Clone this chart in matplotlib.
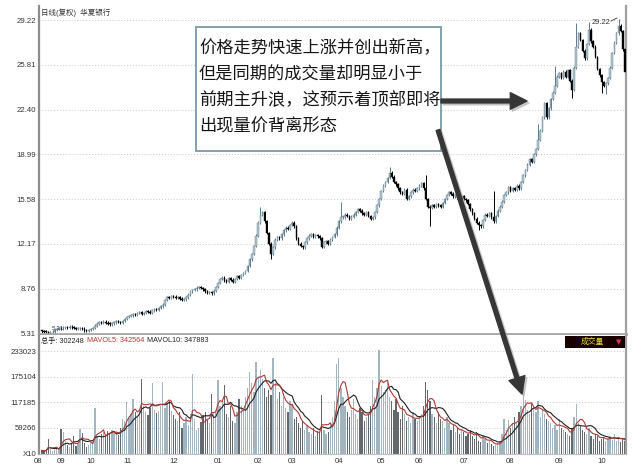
import numpy as np
import pandas as pd
import matplotlib
matplotlib.use("Agg")
import matplotlib.pyplot as plt
from matplotlib.patches import FancyArrowPatch, Rectangle

plt.rcParams['font.family'] = ['Liberation Sans', 'Noto Sans CJK SC', 'DejaVu Sans']

# --- Datos (华夏银行, diario, 2006-08 .. 2007-10) ---
months = ["08", "09", "10", "11", "12", "01", "02", "03", "04", "05", "06", "07", "08", "09", "10"]
month_days = [11, 14, 17, 22, 21, 19, 16, 22, 20, 18, 21, 22, 23, 20, 10]

closes = [
    # 08
    5.52, 5.48, 5.45, 5.40, 5.44, 5.50, 5.62, 5.70, 5.78, 5.74, 5.80,
    # 09
    5.84, 5.80, 5.88, 5.82, 5.76, 5.70, 5.74, 5.78, 5.72, 5.60, 5.55, 5.62, 5.70, 5.78,
    # 10
    5.95, 6.10, 6.20, 6.15, 6.25, 6.18, 6.10, 6.05, 6.12, 6.20, 6.28, 6.22, 6.15, 6.30, 6.45, 6.60, 6.68,
    # 11
    6.72, 6.80, 6.75, 6.90, 6.95, 6.85, 6.92, 7.05, 7.00, 6.90, 7.10, 7.20, 7.15, 7.30, 7.42, 7.55,
    7.90, 8.10, 8.05, 8.20, 8.15, 8.05,
    # 12
    8.10, 8.00, 7.90, 7.95, 8.10, 8.30, 8.55, 8.65, 8.70, 8.85, 8.90, 8.80, 8.70, 8.55, 8.45, 8.50,
    8.40, 8.60, 8.90, 9.20, 9.50,
    # 01
    9.60, 9.40, 9.30, 9.55, 9.45, 9.30, 9.50, 9.70, 9.60, 9.80, 9.95, 10.10, 10.50, 11.00, 11.40,
    12.00, 12.80, 13.80, 14.40,
    # 02
    14.60, 13.90, 13.00, 12.20, 11.40, 11.90, 12.50, 12.70, 12.60, 12.90, 13.20, 13.40, 13.30, 13.60,
    13.80, 13.50,
    # 03
    12.60, 12.20, 12.00, 11.90, 12.30, 12.60, 12.80, 12.90, 12.70, 12.85, 12.75, 12.60, 11.95, 12.30,
    12.40, 12.20, 12.50, 12.70, 12.90, 13.40, 13.90, 14.20,
    # 04
    14.20, 14.40, 14.30, 14.10, 14.25, 14.40, 14.60, 14.80, 14.70, 14.50, 14.40, 14.60, 14.30, 14.10,
    14.20, 14.60, 15.10, 15.60, 16.20, 16.60,
    # 05
    16.90, 17.20, 17.60, 17.30, 16.90, 16.70, 16.40, 16.10, 16.00, 16.30, 15.60, 15.80, 16.10, 16.30,
    16.20, 16.40, 16.60, 16.80,
    # 06
    16.40, 15.60, 15.00, 14.90, 15.10, 15.00, 15.20, 15.10, 15.00, 15.30, 15.60, 15.90, 16.10, 16.00,
    15.80, 15.90, 15.70, 15.60, 15.80, 15.60, 15.50,
    # 07
    15.20, 14.80, 14.50, 14.10, 13.80, 13.60, 13.50, 14.00, 14.40, 14.30, 14.50, 14.20, 13.90, 14.30,
    14.70, 15.00, 15.40, 15.90, 16.10, 16.50, 16.20, 16.40,
    # 08
    16.30, 16.60, 16.40, 16.90, 17.40, 17.80, 18.20, 18.60, 18.40, 19.00, 19.40, 20.10, 20.80, 21.80,
    22.90, 21.80, 22.50, 23.20, 23.70, 24.20, 24.90, 25.20, 24.80,
    # 09
    25.30, 24.90, 25.40, 24.60, 23.90, 25.60, 27.20, 28.20, 27.70, 26.90, 26.30, 27.40, 28.50, 27.60,
    27.20, 26.40, 25.50, 25.00, 24.50, 24.20,
    # 10
    24.40, 24.80, 25.60, 26.70, 27.50, 28.20, 28.80, 28.40, 27.00, 25.30,
]
first_open = 5.55

# mechas destacadas (índice de vela: precio)
wick_high = {103: 14.90, 141: 15.30, 164: 17.90, 181: 17.30, 213: 16.10, 234: 21.20,
             242: 25.60, 252: 28.90, 258: 29.00, 272: 29.22}
wick_low = {3: 5.31, 108: 11.10, 183: 13.60, 206: 13.30, 250: 23.40, 264: 23.80, 266: 23.70}

# volumen (miles)
volumes = [
    8, 6, 10, 34, 12, 7, 9, 14, 11, 57, 50,
    30, 20, 15, 25, 40, 18, 22, 57, 48, 25, 15, 20, 30, 28,
    104, 40, 35, 45, 50, 38, 52, 48, 55, 45, 50, 42, 58, 80, 75, 118, 82,
    90, 125, 95, 85, 100, 170, 110, 95, 88, 105, 160, 100, 92, 98, 110, 163, 105, 115, 120, 98, 88, 80,
    75, 95, 60, 70, 85, 65, 90, 182, 80, 55, 60, 72, 88, 95, 78, 70, 136, 92, 100, 168, 110,
    125, 157, 90, 85, 110, 75, 70, 95, 125, 110, 100, 130, 150, 186, 160, 140, 209, 175, 190,
    170, 150, 130, 145, 135, 218, 160, 125, 140, 110, 130, 105, 95, 120, 114, 80,
    85, 70, 60, 75, 55, 65, 50, 45, 60, 40, 52, 48, 134, 55, 45, 50, 70, 85, 120, 204, 218, 150,
    130, 110, 95, 85, 100, 125, 90, 80, 105, 95, 75, 85, 90, 110, 168, 130, 150, 236, 155, 140,
    145, 160, 130, 120, 100, 125, 95, 80, 110, 90, 75, 85, 70, 95, 80, 75, 85, 90,
    110, 163, 145, 120, 90, 85, 70, 95, 80, 75, 60, 85, 70, 55, 65, 50, 60, 45, 55, 50, 40,
    45, 55, 40, 35, 50, 30, 28, 40, 35, 25, 30, 22, 18, 20, 25, 30, 45, 80, 55, 78, 60, 70,
    85, 70, 95, 110, 152, 123, 100, 90, 115, 105, 95, 120, 85, 100, 90, 80, 75, 70, 60, 65, 55, 80, 60,
    55, 50, 45, 40, 60, 85, 113, 70, 65, 55, 50, 45, 60, 40, 35, 45, 40, 30, 35, 38,
    30, 35, 40, 32, 45, 30, 38, 28, 35, 30,
]

price_ticks = [5.31, 8.76, 12.17, 15.58, 18.99, 22.40, 25.81, 29.22]
vol_ticks = [233023, 175104, 117185, 59266]

cabecera = [("总手: 302248", '#222222'), ("MAVOL5: 342564", '#b03a32'), ("MAVOL10: 347883", '#222222')]

texto = ["价格走势快速上涨并创出新高，",
         "但是同期的成交量却明显小于",
         "前期主升浪，这预示着顶部即将",
         "出现量价背离形态"]

# --- preparación ---
c = np.array(closes)
o = np.r_[first_open, c[:-1]]
n = len(c)
x = np.arange(n)
hi = np.maximum(o, c)
lo = np.minimum(o, c)
for k, v in wick_high.items():
    hi[k] = v
for k, v in wick_low.items():
    lo[k] = v
up = c >= o
vol = np.array(volumes) * 1000.0
ma5 = pd.Series(vol).rolling(5, min_periods=1).mean()
ma10 = pd.Series(vol).rolling(10, min_periods=1).mean()
starts = np.r_[0, np.cumsum(month_days)[:-1]]

W, H = 644, 470
fig = plt.figure(figsize=(W / 100, H / 100), dpi=100)


def rect(l, t, r, b):
    return [l / W, 1 - b / H, (r - l) / W, (b - t) / H]


ax = fig.add_axes(rect(39, 6, 626, 334))
axv = fig.add_axes(rect(39, 335, 626, 454))

up_face, up_edge = '#b4c6d1', '#5e7b8d'
gris = '#8c8c8c'

# velas
ax.vlines(x, lo - 0.1, hi + 0.1, colors=np.where(up, up_edge, 'black'), lw=0.7, zorder=2)
ax.bar(x, np.maximum(np.abs(c - o), 0.06), bottom=np.minimum(o, c),
       width=0.7, color=np.where(up, up_face, 'black'), edgecolor=np.where(up, up_edge, 'black'),
       lw=0.3, zorder=3)
ax.set_xlim(-1.4, 275.5)
ax.set_ylim(5.31, 30.29)
ax.set_yticks(price_ticks)
ax.set_yticklabels([f"{t:.2f}" for t in price_ticks])
ax.set_xticks([])
ax.grid(axis='y', ls=(0, (1, 2)), color='#c8c8c8', lw=0.7)
ax.tick_params(axis='y', length=0, labelsize=5.6, pad=2, labelcolor='#333333')
ax.spines['top'].set_visible(False)
ax.spines['left'].set_color(gris)
ax.spines['left'].set_linewidth(1.6)
ax.spines['right'].set_color('#a0a0a0')
ax.spines['right'].set_linewidth(1.6)
ax.spines['bottom'].set_color('#a8a8a8')
ax.spines['bottom'].set_linewidth(2)

# volumen
axv.bar(x, vol, width=0.6, color=np.where(up, '#a3b5c0', '#62686c'), lw=0, zorder=2)
axv.plot(x, ma10, color='#202020', lw=0.8, zorder=3)
axv.plot(x, ma5, color='#b03a32', lw=0.8, zorder=4)
axv.set_xlim(-1.4, 275.5)
axv.set_ylim(0, 270000)
axv.set_yticks(vol_ticks + [0])
axv.set_yticklabels([str(v) for v in vol_ticks] + ["X10"])
axv.set_xticks(starts)
axv.set_xticklabels(months, ha='right')
axv.grid(axis='y', ls=(0, (1, 2)), color='#c8c8c8', lw=0.7)
axv.tick_params(length=0, labelsize=5.6, pad=2, labelcolor='#333333')
axv.tick_params(axis='x', pad=3)
axv.spines['top'].set_visible(False)
axv.spines['left'].set_color(gris)
axv.spines['left'].set_linewidth(1.6)
axv.spines['right'].set_color('#a0a0a0')
axv.spines['right'].set_linewidth(1.6)
axv.spines['bottom'].set_color('#c0c0c0')
axv.spines['bottom'].set_linewidth(0.8)

# capa superior en píxeles
ov = fig.add_axes([0, 0, 1, 1], zorder=10)
ov.set_xlim(0, W)
ov.set_ylim(H, 0)
ov.axis('off')
ov.patch.set_alpha(0)

ov.text(41, 13, "日线(复权)  华夏银行", fontsize=5.4, color='#333333', va='center')

# cabecera del volumen, una tras otra
rend = fig.canvas.get_renderer()
xpos = 41
for txt, col in cabecera:
    t = ov.text(xpos, 341, txt, fontsize=5.2, color=col, va='center')
    bb = t.get_window_extent(renderer=rend)
    xpos += bb.width + 3

ov.add_patch(Rectangle((565, 336), 60, 12, fc='#180000', ec='none'))
ov.text(592, 342, "成交量", fontsize=5.6, color='#e8e030', ha='center', va='center')
ov.text(619, 342, "▼", fontsize=5, color='#e0306a', ha='center', va='center',
        family=['DejaVu Sans'])

ov.text(610, 22, "29.22", fontsize=5.4, color='#333333', ha='right', va='center')
ov.plot([611, 617], [21, 18], color='#333333', lw=0.6)
ov.text(52, 328, "5.31", fontsize=4.5, color='#333333', va='center')

# cuadro de texto
ov.add_patch(Rectangle((196, 27), 245, 124, fc='white', ec='#86a0b0', lw=1.4, zorder=5))
for i, linea in enumerate(texto):
    ov.text(199, 48 + i * 26.3, linea, fontsize=12.4, color='#151515', va='center',
            family=['Noto Sans CJK SC'], zorder=6)

# flechas (sombra + flecha)
estilo = "simple,head_length=12,head_width=12,tail_width=2.8"
for (p0, p1) in [((441, 101), (527, 101)), ((438, 130), (522, 394))]:
    sombra = FancyArrowPatch((p0[0] + 2, p0[1] + 2), (p1[0] + 2, p1[1] + 2), arrowstyle=estilo,
                             color='#b0b0b0', alpha=0.6, shrinkA=0, shrinkB=0, zorder=7)
    ov.add_patch(sombra)
    fl = FancyArrowPatch(p0, p1, arrowstyle=estilo, color='#363636', shrinkA=0, shrinkB=0, zorder=8)
    ov.add_patch(fl)

fig.savefig("out.png", dpi=100)
